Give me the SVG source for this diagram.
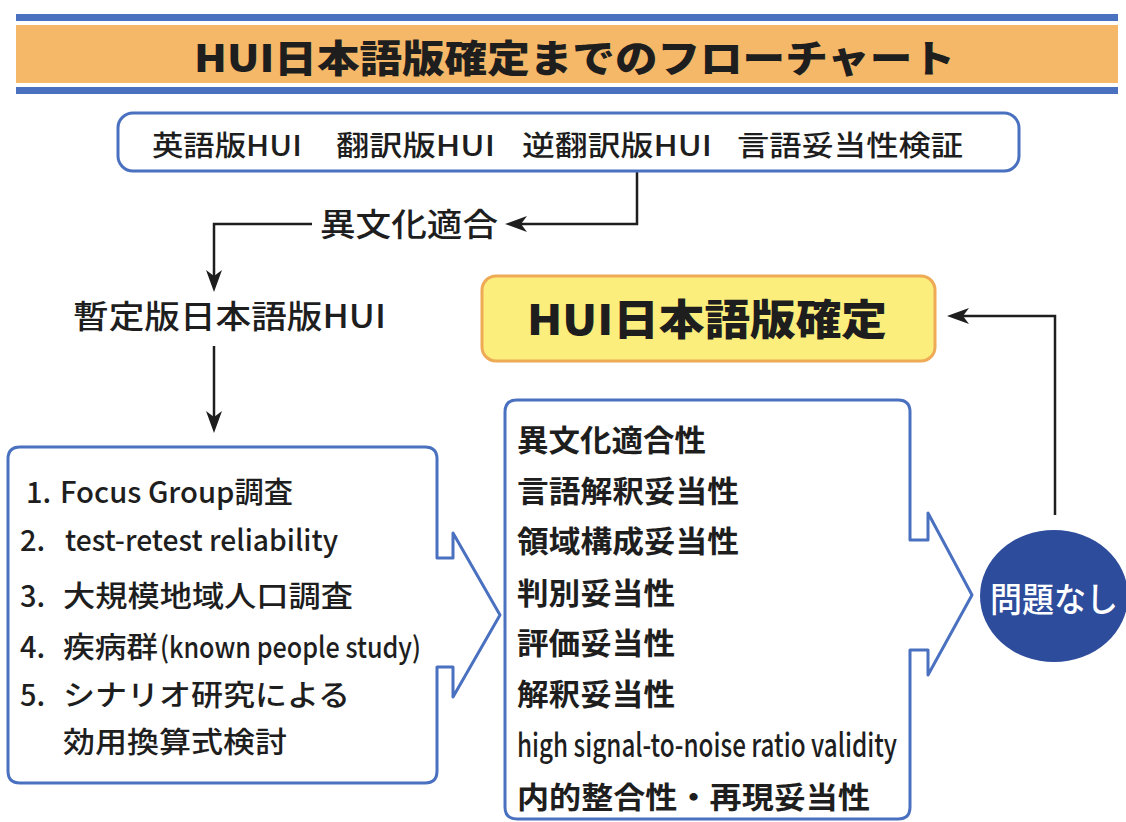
<svg xmlns="http://www.w3.org/2000/svg" width="1126" height="822" viewBox="0 0 1126 822">
<style>
.t{font-family:"Noto Sans CJK JP","Noto Sans",sans-serif;fill:#1e1e1e}
.m{font-weight:500}
.b{font-weight:700}
.box{fill:#fff;stroke:#4a70c0;stroke-width:3;stroke-linejoin:round}
.con{fill:none;stroke:#1e1e1e;stroke-width:2.5}
</style>
<defs>
<marker id="ah" markerUnits="userSpaceOnUse" markerWidth="22" markerHeight="16" refX="16" refY="8" orient="auto" viewBox="0 0 22 16">
<path d="M0,0 L22,8 L0,16 L6,8 Z" fill="#1e1e1e"/>
</marker>
</defs>
<rect width="1126" height="822" fill="#fff"/>

<g id="title">
<rect x="16" y="14" width="1102" height="7" fill="#4a70c0"/>
<rect x="16" y="25" width="1102" height="58" fill="#f5b868"/>
<rect x="16" y="87" width="1102" height="7" fill="#4a70c0"/>
<text class="t" x="194" y="72" font-size="38" font-weight="900" textLength="761" lengthAdjust="spacingAndGlyphs">HUI日本語版確定までのフローチャート</text>
</g>

<g id="connectors">
<path class="con" d="M637,171 V224 H511" marker-end="url(#ah)"/>
<path class="con" d="M312,224 H214 V286" marker-end="url(#ah)"/>
<path class="con" d="M214,346 V427" marker-end="url(#ah)"/>
<path class="con" d="M1055,515 V316 H953" marker-end="url(#ah)"/>
</g>

<g id="source">
<rect class="box" x="118" y="113" width="901" height="58" rx="15"/>
<text class="t m" y="156" font-size="28"><tspan x="152" textLength="150" lengthAdjust="spacingAndGlyphs">英語版HUI</tspan><tspan x="336" textLength="159" lengthAdjust="spacingAndGlyphs">翻訳版HUI</tspan><tspan x="522" textLength="190" lengthAdjust="spacingAndGlyphs">逆翻訳版HUI</tspan><tspan x="737" textLength="226" lengthAdjust="spacingAndGlyphs">言語妥当性検証</tspan></text>
</g>

<g id="adapt">
<text class="t m" x="320" y="236" font-size="32" textLength="178" lengthAdjust="spacingAndGlyphs">異文化適合</text>
</g>

<g id="provisional">
<text class="t m" x="73" y="328" font-size="32" textLength="313" lengthAdjust="spacingAndGlyphs">暫定版日本語版HUI</text>
</g>

<g id="final">
<rect x="482" y="276" width="453" height="85" rx="14" fill="#fcee7c" stroke="#eeaa55" stroke-width="3"/>
<text class="t" x="527" y="335" font-size="42" font-weight="900" textLength="360" lengthAdjust="spacingAndGlyphs">HUI日本語版確定</text>
</g>

<g id="studies">
<path class="box" d="M20,447 H425 Q437,447 437,459 V558 H453 V533 L500,615 L453,697 V667 H437 V771 Q437,783 425,783 H20 Q8,783 8,771 V459 Q8,447 20,447 Z"/>
<g class="t m" font-size="29">
<text y="503"><tspan x="26">1.</tspan><tspan x="60" textLength="233" lengthAdjust="spacingAndGlyphs">Focus Group調査</tspan></text>
<text y="551"><tspan x="20">2.</tspan><tspan x="65" textLength="273" lengthAdjust="spacingAndGlyphs">test-retest reliability</tspan></text>
<text y="607"><tspan x="20">3.</tspan><tspan x="63" textLength="290" lengthAdjust="spacingAndGlyphs">大規模地域人口調査</tspan></text>
<text y="658"><tspan x="20">4.</tspan><tspan x="63" textLength="95" lengthAdjust="spacingAndGlyphs">疾病群</tspan><tspan x="160" textLength="261" lengthAdjust="spacingAndGlyphs">(known people study)</tspan></text>
<text y="706"><tspan x="20">5.</tspan><tspan x="63" textLength="287" lengthAdjust="spacingAndGlyphs">シナリオ研究による</tspan></text>
<text x="63" y="753" textLength="224" lengthAdjust="spacingAndGlyphs">効用換算式検討</text>
</g>
</g>

<g id="validity">
<path class="box" d="M517,400 H898 Q910,400 910,412 V540 H928 V513 L972,595 L928,675 V650 H910 V807 Q910,819 898,819 H517 Q505,819 505,807 V412 Q505,400 517,400 Z"/>
<g class="t b" font-size="30">
<text x="517" y="451" textLength="189" lengthAdjust="spacingAndGlyphs">異文化適合性</text>
<text x="517" y="502" textLength="222" lengthAdjust="spacingAndGlyphs">言語解釈妥当性</text>
<text x="517" y="552" textLength="222" lengthAdjust="spacingAndGlyphs">領域構成妥当性</text>
<text x="517" y="604" textLength="158" lengthAdjust="spacingAndGlyphs">判別妥当性</text>
<text x="517" y="654" textLength="158" lengthAdjust="spacingAndGlyphs">評価妥当性</text>
<text x="517" y="705" textLength="158" lengthAdjust="spacingAndGlyphs">解釈妥当性</text>
<text x="517" y="757" font-weight="500" font-size="32" textLength="380" lengthAdjust="spacingAndGlyphs">high signal-to-noise ratio validity</text>
<text x="517" y="808" textLength="353" lengthAdjust="spacingAndGlyphs">内的整合性・再現妥当性</text>
</g>
</g>

<g id="ok">
<ellipse cx="1054" cy="596" rx="74" ry="66" fill="#2e4c9c"/>
<text class="t m" x="990" y="612" font-size="34" style="fill:#fff" textLength="128" lengthAdjust="spacingAndGlyphs">問題なし</text>
</g>
</svg>
